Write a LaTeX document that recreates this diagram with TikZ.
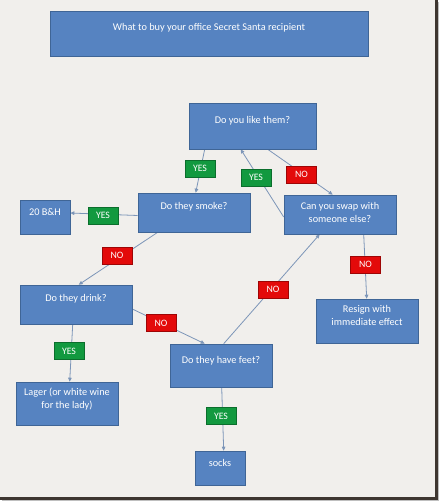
\documentclass[tikz,border=0pt]{standalone}
\usepackage{fontspec}
\setmainfont{Carlito}
\usetikzlibrary{arrows.meta,calc}
\definecolor{pagebg}{HTML}{F1EFEC}
\definecolor{framedark}{HTML}{3E3630}
\definecolor{boxfill}{HTML}{5683C1}
\definecolor{boxline}{HTML}{3F6596}
\definecolor{linecol}{HTML}{7C95B8}
\definecolor{yesgreen}{HTML}{12993F}
\definecolor{yesdark}{HTML}{0B6E2C}
\definecolor{nored}{HTML}{E30A0A}
\definecolor{nodark}{HTML}{9E0505}
\pgfdeclarelayer{bg}
\pgfsetlayers{bg,main}
\tikzset{
  box/.style={rectangle, draw=boxline, fill=boxfill, line width=0.6pt, inner sep=0pt},
  txt/.style={text=white, font=\fontsize{10.3}{13}\selectfont, align=center, inner sep=0pt},
  lab/.style={rectangle, text=white, minimum width=30pt, minimum height=17pt, inner sep=0pt, line width=0.6pt, font=\fontsize{9.8}{10}\selectfont},
  yeslab/.style={lab, fill=yesgreen, draw=yesdark},
  nolab/.style={lab, fill=nored, draw=nodark},
  conn/.style={draw=linecol, line width=0.8pt, -{Triangle[length=4pt,width=3.6pt]}}
}
\begin{document}
\begin{tikzpicture}[x=1pt,y=-1pt]
\useasboundingbox (0,0) rectangle (439,501);
% boxes
\node[box, minimum width=318pt, minimum height=45pt] (title) at (209,33.5) {};
\node[txt] (titleT) at (209,28) {What to buy your office Secret Santa recipient};
\node[box, minimum width=127pt, minimum height=46pt] (like) at (252.5,126) {};
\node[txt] (likeT) at (252.5,121) {Do you like them?};
\node[box, minimum width=112pt, minimum height=39pt] (smoke) at (194,212.5) {};
\node[txt] (smokeT) at (194,207) {Do they smoke?};
\node[box, minimum width=50pt, minimum height=34pt] (bh) at (45,217) {};
\node[txt] (bhT) at (45,212) {20 B\&H};
\node[box, minimum width=112pt, minimum height=39pt] (swap) at (340,214.5) {};
\node[txt] (swapT) at (340,212) {Can you swap with\\someone else?};
\node[box, minimum width=112pt, minimum height=39pt] (drink) at (76,304.5) {};
\node[txt] (drinkT) at (76,299) {Do they drink?};
\node[box, minimum width=102pt, minimum height=44pt] (resign) at (367,321) {};
\node[txt] (resignT) at (367,315.5) {Resign with\\immediate effect};
\node[box, minimum width=102pt, minimum height=43pt] (feet) at (221,365.5) {};
\node[txt] (feetT) at (221,361) {Do they have feet?};
\node[box, minimum width=102pt, minimum height=43pt] (lager) at (67,403.5) {};
\node[txt] (lagerT) at (67,399) {Lager (or white wine\\for the lady)};
\node[box, minimum width=50pt, minimum height=34pt] (socks) at (220,468) {};
\node[txt] (socksT) at (220,463) {socks};
% labels
\node[yeslab] (yesA) at (200,168.5) {YES};
\node[yeslab] (yesB) at (256,177.5) {YES};
\node[nolab] (noA) at (301.5,174.5) {NO};
\node[yeslab] (yesC) at (103,215.5) {YES};
\node[nolab] (noB) at (117,255.5) {NO};
\node[yeslab] (yesD) at (69,351) {YES};
\node[nolab] (noC) at (161,323) {NO};
\node[nolab] (noD) at (273,289.5) {NO};
\node[nolab] (noE) at (365.5,264.5) {NO};
\node[yeslab] (yesE) at (221,416) {YES};
\begin{pgfonlayer}{bg}
  % page frame with shadow
  \fill[white] (0,0) rectangle (439,501);
  \fill[black!25] (2,2) rectangle (439,501);
  \fill[framedark] (0,0) rectangle (437.5,499.5);
  \fill[pagebg] (0,0) rectangle (435,497);
  % connectors
  \draw[conn] ([xshift=16pt]like.south west) -- ([xshift=58pt]smoke.north west);
  \draw[conn] ([yshift=-2.5pt]swap.west) -- ([xshift=52pt]like.south west);
  \draw[conn] ([xshift=79pt]like.south west) -- ([xshift=49pt]swap.north west);
  \draw[conn] ([yshift=-3pt]smoke.west) -- ([yshift=4pt]bh.east);
  \draw[conn] ([xshift=20pt]smoke.south west) -- ([xshift=59pt]drink.north west);
  \draw[conn] ([xshift=53pt]drink.south west) -- ([xshift=54pt]lager.north west);
  \draw[conn] ([yshift=-4.5pt]drink.east) -- ([xshift=35pt]feet.north west);
  \draw[conn] ([xshift=54pt]feet.north west) -- ([xshift=36pt]swap.south west);
  \draw[conn] ([xshift=80pt]swap.south west) -- ([xshift=51pt]resign.north west);
  \draw[conn] ([xshift=52pt]feet.south west) -- ([xshift=29pt]socks.north west);
\end{pgfonlayer}
\end{tikzpicture}
\end{document}
